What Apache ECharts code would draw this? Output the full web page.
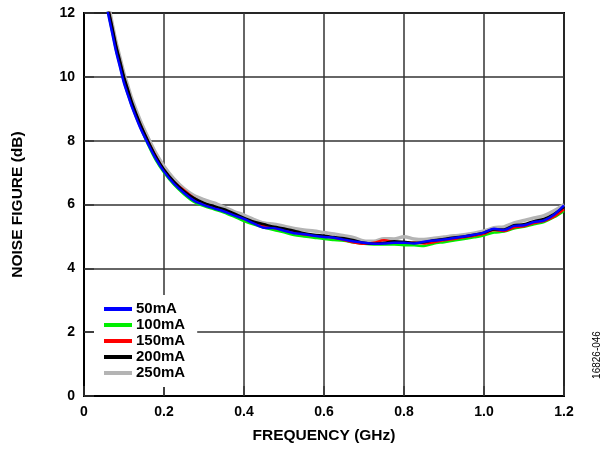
<!DOCTYPE html>
<html>
<head>
<meta charset="utf-8">
<script src="https://cdn.jsdelivr.net/npm/echarts@6/dist/echarts.min.js"></script>
<style>
html,body{margin:0;padding:0;background:#fff;}
#c{width:614px;height:449px;}
</style>
</head>
<body>
<div id="c"></div>
<script>
var freq = [0.05,0.06,0.07,0.08,0.09,0.10,0.11,0.12,0.14,0.16,0.18,0.20,0.225,0.25,0.275,0.30,0.325,0.35,0.375,0.40,0.425,0.45,0.475,0.50,0.525,0.55,0.575,0.60,0.625,0.65,0.675,0.70,0.725,0.75,0.775,0.80,0.825,0.85,0.875,0.90,0.925,0.95,0.975,1.00,1.025,1.05,1.075,1.10,1.125,1.15,1.175,1.20];
var nf50  = [12.7,12.0,11.4,10.8,10.3,9.8,9.42,9.05,8.42,7.9,7.42,7.03,6.65,6.36,6.12,5.98,5.88,5.78,5.66,5.55,5.4,5.27,5.26,5.18,5.1,5.07,5.02,4.98,4.96,4.9,4.84,4.8,4.77,4.78,4.8,4.8,4.78,4.83,4.87,4.9,4.95,5.0,5.05,5.12,5.24,5.2,5.33,5.35,5.45,5.5,5.68,5.97];
var nf100 = [12.75,12.05,11.45,10.85,10.35,9.85,9.45,9.08,8.45,7.88,7.38,7.0,6.62,6.32,6.08,5.95,5.85,5.75,5.62,5.48,5.37,5.28,5.2,5.13,5.04,5.0,4.96,4.92,4.89,4.86,4.81,4.77,4.75,4.75,4.75,4.72,4.72,4.7,4.78,4.82,4.87,4.92,4.97,5.03,5.12,5.15,5.25,5.3,5.38,5.45,5.6,5.8];
var nf150 = [12.85,12.15,11.55,10.95,10.45,9.95,9.55,9.15,8.52,7.98,7.5,7.08,6.7,6.45,6.2,6.02,5.92,5.82,5.7,5.55,5.44,5.34,5.26,5.2,5.13,5.06,5.03,5.0,4.96,4.89,4.81,4.77,4.8,4.88,4.82,4.8,4.8,4.78,4.82,4.88,4.92,4.97,5.02,5.08,5.2,5.17,5.28,5.32,5.42,5.48,5.62,5.85];
var nf200 = [13.0,12.2,11.6,11.0,10.5,10.0,9.6,9.2,8.55,8.0,7.5,7.1,6.72,6.42,6.2,6.05,5.95,5.85,5.72,5.58,5.46,5.38,5.3,5.25,5.18,5.1,5.05,5.02,4.98,4.94,4.88,4.8,4.77,4.8,4.85,4.83,4.8,4.82,4.88,4.92,4.97,5.0,5.05,5.12,5.22,5.22,5.35,5.38,5.48,5.55,5.7,5.93];
var nf250 = [13.1,12.35,11.7,11.1,10.6,10.1,9.7,9.3,8.65,8.1,7.6,7.2,6.8,6.5,6.28,6.15,6.05,5.92,5.78,5.67,5.53,5.42,5.38,5.32,5.25,5.2,5.17,5.12,5.08,5.02,4.96,4.86,4.85,4.93,4.92,4.99,4.92,4.9,4.94,4.98,5.02,5.05,5.1,5.17,5.27,5.3,5.42,5.5,5.58,5.65,5.8,6.0];
var seriesNames = ['50mA','100mA','150mA','200mA','250mA'];
var xTickLabels = ['0','0.2','0.4','0.6','0.8','1.0','1.2'];
var yTickLabels = ['0','2','4','6','8','10','12'];

function pairs(v){ return freq.map(function(f,i){ return [f, v[i]]; }); }

var chart = echarts.init(document.getElementById('c'), null, {renderer:'canvas'});
var font = 'Arial, "Liberation Sans", Helvetica, sans-serif';
var seriesDefs = [
  {name:'250mA', data:nf250, color:'#b4b4b4', width:3.5},
  {name:'100mA', data:nf100, color:'#00ee00', width:2.5},
  {name:'150mA', data:nf150, color:'#ff0000', width:2.5},
  {name:'200mA', data:nf200, color:'#000000', width:2.5},
  {name:'50mA',  data:nf50,  color:'#0000ff', width:2.5}
];
var option = {
  animation:false,
  backgroundColor:'#fff',
  grid:{left:84, right:50, top:13, bottom:52, show:true, borderColor:'#000', borderWidth:2, backgroundColor:'transparent'},
  legend:{
    data:seriesNames,
    orient:'vertical',
    left:94, top:295,
    width:104,
    backgroundColor:'#fff',
    padding:[6,12,6,10],
    itemGap:0,
    itemWidth:28, itemHeight:4,
    icon:'rect',
    textStyle:{fontFamily:font, fontWeight:'bold', fontSize:15, color:'#000', lineHeight:16, padding:[0,0,0,-1]},
    z:3
  },
  xAxis:{
    type:'value', min:0, max:1.2, interval:0.2,
    name:'FREQUENCY (GHz)', nameLocation:'middle', nameGap:32,
    nameTextStyle:{fontFamily:font, fontWeight:'bold', fontSize:15.5, color:'#000'},
    axisLine:{show:true, lineStyle:{color:'#000', width:2}},
    axisTick:{show:true, inside:true, length:10, lineStyle:{color:'#333', width:1.5}},
    axisLabel:{margin:9, fontFamily:font, fontWeight:'bold', fontSize:14, color:'#000',
      formatter:function(v){ var i=Math.round(v/0.2); return xTickLabels[i]; }},
    splitLine:{show:true, lineStyle:{color:'#333', width:1.5}}
  },
  yAxis:{
    type:'value', min:0, max:12, interval:2,
    name:'NOISE FIGURE (dB)', nameLocation:'middle', nameGap:58, nameRotate:90,
    nameTextStyle:{fontFamily:font, fontWeight:'bold', fontSize:15.5, color:'#000'},
    axisLine:{show:true, lineStyle:{color:'#000', width:2}},
    axisTick:{show:true, inside:true, length:10, lineStyle:{color:'#333', width:1.5}},
    axisLabel:{margin:9, fontFamily:font, fontWeight:'bold', fontSize:14, color:'#000',
      formatter:function(v){ var i=Math.round(v/2); return yTickLabels[i]; }},
    splitLine:{show:true, lineStyle:{color:'#333', width:1.5}}
  },
  graphic:[{
    type:'text', x:597, y:355, rotation:Math.PI/2,
    style:{text:'16826-046', fontFamily:font, fontSize:10, fill:'#000', align:'center', verticalAlign:'middle'}
  }],
  series:seriesDefs.map(function(s){
    return {
      name:s.name, type:'line', data:pairs(s.data), showSymbol:false, symbol:'none',
      clip:true, smooth:0.3,
      lineStyle:{color:s.color, width:s.width},
      itemStyle:{color:s.color},
      z:2
    };
  })
};
chart.setOption(option);
</script>
</body>
</html>
